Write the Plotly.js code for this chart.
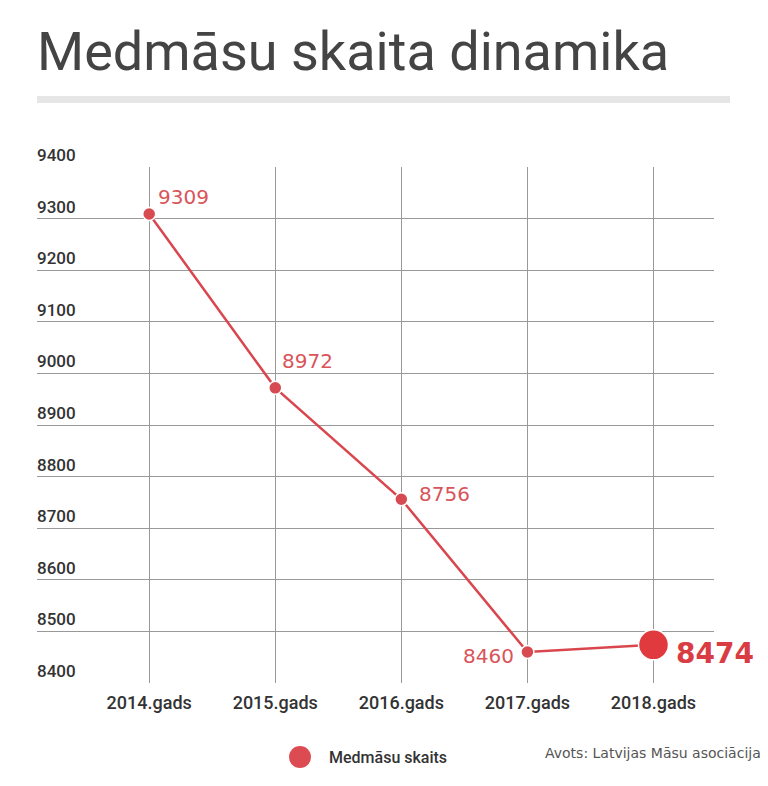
<!DOCTYPE html>
<html>
<head>
<meta charset="utf-8">
<script src="https://cdn.plot.ly/plotly-3.0.1.min.js"></script>
<style>
  html, body { margin: 0; padding: 0; background: #fff; }
  #graph { width: 768px; height: 786px; }
</style>
</head>
<body>
<div id="graph"></div>
<script>
/* chart data */
const years = ["2014.gads", "2015.gads", "2016.gads", "2017.gads", "2018.gads"];
const nurses = [9309, 8972, 8756, 8460, 8474];
const yTicks = [8400, 8500, 8600, 8700, 8800, 8900, 9000, 9100, 9200, 9300, 9400];

/* where each value label sits next to its point (pixels) */
const labelAnchor = ["left", "left", "left", "right", "left"];
const labelDx = [7, 5, 16, -11, 21];
const labelDy = [17, 27, 5, -4, -9];

const red = "#d9464e";
const last = nurses.length - 1;

const trace = {
    x: years,
    y: nurses,
    type: "scatter",
    mode: "lines+markers",
    line: { color: red, width: 2.5 },
    marker: {
        size: nurses.map((v, i) => (i === last ? 30 : 13)),
        color: nurses.map((v, i) => (i === last ? "#e0393e" : "#d84a51")),
        opacity: 1,
        line: { color: "#ffffff", width: 1.5 },
    },
    cliponaxis: false,
    showlegend: false,
    hoverinfo: "x+y",
};

/* value labels */
const valueLabels = nurses.map((v, i) => ({
    text: String(v),
    x: years[i],
    y: v,
    xref: "x",
    yref: "y",
    xanchor: labelAnchor[i],
    yanchor: "middle",
    xshift: labelDx[i],
    yshift: labelDy[i],
    showarrow: false,
    font: {
        family: "DejaVu Sans",
        size: i === last ? 28 : 20,
        color: i === last ? "#d93c43" : "#d9545b",
        weight: i === last ? 700 : 400,
    },
}));

const layout = {
    width: 768,
    height: 786,
    margin: { l: 37, r: 54, t: 167, b: 103 },
    paper_bgcolor: "#ffffff",
    plot_bgcolor: "#ffffff",
    font: { family: "Roboto", color: "#333333" },
    title: {
        text: "Medmāsu skaita dinamika",
        font: { family: "Roboto", size: 54, color: "#444444" },
        x: 37 / 768,
        xanchor: "left",
        xref: "container",
        y: 1 - 51 / 786,
        yanchor: "middle",
        yref: "container",
    },
    xaxis: {
        type: "category",
        range: [-0.89, 4.48],
        showgrid: true,
        gridcolor: "#999999",
        gridwidth: 1,
        showline: false,
        zeroline: false,
        ticks: "",
        ticklabelstandoff: 7,
        tickfont: { family: "Roboto", size: 18, weight: 500, color: "#333333" },
        fixedrange: true,
    },
    yaxis: {
        range: [8400, 9400],
        tickvals: yTicks,
        ticktext: yTicks.map(String),
        ticklabelposition: "inside top",
        ticklabeloverflow: "allow",
        ticklabelstandoff: -3,
        showgrid: true,
        gridcolor: "#999999",
        gridwidth: 1,
        showline: false,
        zeroline: false,
        ticks: "",
        tickfont: { family: "Roboto", size: 17, weight: 500, color: "#333333" },
        fixedrange: true,
    },
    shapes: [
        {
            type: "rect",
            xref: "paper",
            yref: "paper",
            x0: 0,
            x1: (730 - 37) / 677,
            y0: (683 - 103) / 516,
            y1: (683 - 96) / 516,
            fillcolor: "#e6e6e6",
            line: { width: 0 },
        },
        {
            type: "circle",
            xref: "paper",
            yref: "paper",
            x0: (289 - 37) / 677,
            x1: (311 - 37) / 677,
            y0: (683 - 768) / 516,
            y1: (683 - 746) / 516,
            fillcolor: "#dd4b52",
            line: { width: 0 },
        },
    ],
    annotations: valueLabels.concat([
        {
            text: "Medmāsu skaits",
            xref: "paper",
            yref: "paper",
            x: (327 - 37) / 677,
            y: (683 - 757) / 516,
            xanchor: "left",
            yanchor: "middle",
            showarrow: false,
            font: { family: "Roboto", size: 16, weight: 500, color: "#333333" },
        },
        {
            text: "Avots: Latvijas Māsu asociācija",
            xref: "paper",
            yref: "paper",
            x: (763 - 37) / 677,
            y: (683 - 753) / 516,
            xanchor: "right",
            yanchor: "middle",
            showarrow: false,
            font: { family: "DejaVu Sans", size: 14, color: "#555555" },
        },
    ]),
};

Plotly.newPlot("graph", [trace], layout, { displayModeBar: false, staticPlot: true });
</script>
</body>
</html>
